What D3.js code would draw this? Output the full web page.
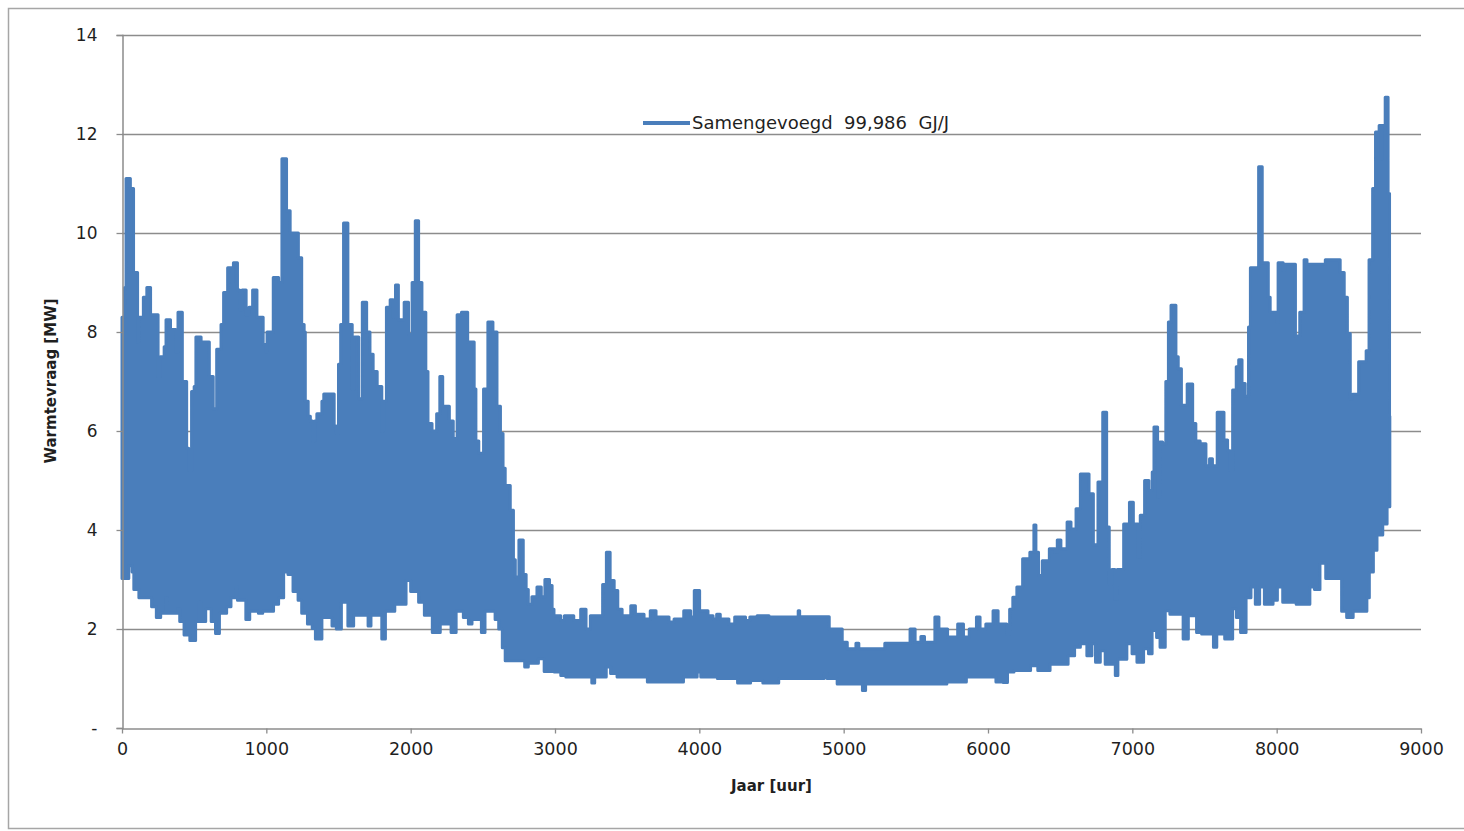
<!DOCTYPE html>
<html>
<head>
<meta charset="utf-8">
<script src="https://cdn.jsdelivr.net/npm/d3@7"></script>
<style>
  body { margin: 0; background: #fff; }
  text { font-family: "DejaVu Sans", Verdana, sans-serif; fill: #1f1f1f; }
</style>
</head>
<body>
<div id="chart"></div>
<script>
// ---- data ----
// the hourly series is too dense to read point by point: it is kept as the
// envelope of the band, [hour, MW] where each level starts
const upperEnvelope = [
  [0, 8.3], [18, 8.9], [28, 11.1], [58, 10.9], [80, 9.2], [108, 7.8], [115, 8.3], [148, 8.7], [172, 8.9],
  [198, 8.35], [250, 7.1], [266, 7.5], [292, 7.7], [305, 8.25], [336, 8.05], [372, 7.6], [388, 8.4],
  [418, 7.0], [448, 5.65], [462, 5.2], [482, 6.8], [500, 6.9], [512, 7.9], [548, 7.8], [570, 7.8],
  [605, 7.1], [632, 6.45], [656, 7.65], [686, 8.15], [704, 8.8], [732, 9.3], [760, 9.0], [772, 9.4],
  [800, 8.85], [815, 8.45], [832, 8.85], [860, 8.35], [880, 8.5], [905, 8.85], [935, 8.3], [978, 7.75],
  [995, 7.6], [1005, 8.0], [1048, 9.1], [1085, 9.0], [1108, 11.5], [1140, 10.45], [1165, 10.0],
  [1222, 9.5], [1245, 8.15], [1262, 8.0], [1270, 6.6], [1290, 6.3], [1305, 6.2], [1320, 5.8],
  [1335, 6.2], [1350, 6.35], [1385, 6.6], [1398, 6.75], [1470, 6.1], [1485, 5.95],
  [1500, 7.35], [1515, 8.15], [1535, 10.2], [1565, 8.15], [1595, 6.85], [1610, 7.9], [1640, 6.65],
  [1665, 8.6], [1695, 8.0], [1718, 7.55], [1740, 7.2], [1768, 6.9], [1800, 6.0], [1812, 6.6],
  [1832, 8.5], [1858, 8.65], [1880, 8.3], [1895, 8.95], [1915, 8.25], [1955, 8.6], [1985, 7.95],
  [2010, 9.0], [2032, 10.25], [2055, 9.0], [2078, 8.4], [2105, 7.2], [2120, 6.15], [2148, 6.0],
  [2180, 6.35], [2202, 7.1], [2222, 6.5], [2268, 6.2], [2295, 5.85], [2322, 8.35], [2352, 8.4],
  [2395, 7.8], [2440, 6.85], [2452, 5.8], [2472, 5.55], [2505, 6.85], [2535, 8.2], [2570, 8.0],
  [2598, 6.5], [2622, 5.95], [2640, 5.25], [2655, 4.9], [2690, 4.4], [2712, 3.4], [2725, 3.05],
  [2750, 3.8], [2780, 3.1], [2800, 2.8], [2815, 2.5], [2840, 2.65], [2875, 2.85], [2905, 2.65],
  [2930, 3.0], [2962, 2.88], [2980, 2.4], [2993, 2.27], [3040, 2.17], [3065, 2.27], [3130, 2.17],
  [3178, 2.4], [3215, 2.0], [3245, 2.27], [3330, 2.9], [3356, 3.55], [3382, 2.98], [3410, 2.78],
  [3435, 2.4], [3465, 2.27], [3525, 2.47], [3557, 2.3], [3617, 2.2], [3660, 2.37], [3700, 2.24],
  [3790, 2.14], [3825, 2.2], [3892, 2.37], [3940, 2.24], [3965, 2.78], [4002, 2.37], [4060, 2.27],
  [4095, 2.2], [4120, 2.3], [4145, 2.2], [4205, 2.1], [4245, 2.24], [4320, 2.17], [4350, 2.24],
  [4400, 2.27], [4483, 2.24], [4685, 2.37], [4695, 2.25], [4900, 2.0], [4990, 1.73], [5025, 1.6],
  [5085, 1.71], [5105, 1.6], [5285, 1.71], [5460, 2.0], [5495, 1.73], [5535, 1.85], [5560, 1.73],
  [5632, 2.24], [5660, 2.0], [5720, 1.84], [5790, 2.1], [5830, 1.84], [5870, 2.0], [5920, 2.24],
  [5945, 2.0], [5985, 2.1], [6035, 2.37], [6070, 2.1], [6130, 1.9], [6150, 2.4], [6172, 2.64],
  [6200, 2.85], [6240, 3.42], [6290, 3.55], [6318, 4.1], [6332, 3.55], [6350, 3.08], [6376, 3.38],
  [6425, 3.62], [6465, 3.55], [6480, 3.8], [6505, 3.62], [6548, 4.16], [6575, 4.02], [6610, 4.43],
  [6640, 5.13], [6700, 4.73], [6730, 3.7], [6762, 4.97], [6795, 6.38], [6822, 4.06], [6840, 2.9],
  [6858, 3.2], [6880, 2.6], [6895, 3.2], [6940, 4.12], [6980, 4.56], [7007, 4.12], [7040, 3.45],
  [7055, 4.3], [7085, 5.0], [7115, 4.8], [7138, 5.17], [7150, 6.08], [7175, 4.66], [7190, 5.78],
  [7210, 5.74], [7232, 7.0], [7250, 8.2], [7268, 8.54], [7302, 7.5], [7318, 7.26], [7340, 6.52],
  [7380, 6.95], [7418, 6.15], [7440, 5.8], [7470, 5.74], [7510, 5.3], [7535, 5.44], [7555, 5.3],
  [7588, 6.38], [7635, 5.82], [7660, 5.6], [7678, 5.2], [7695, 6.83], [7720, 7.3], [7737, 7.44],
  [7760, 6.96], [7782, 6.7], [7805, 8.1], [7818, 9.3], [7875, 11.34], [7900, 9.4], [7942, 8.7],
  [7955, 8.4], [8003, 8.2], [8010, 9.4], [8045, 9.24], [8055, 9.37], [8130, 7.92], [8160, 8.4],
  [8190, 9.46], [8210, 9.37], [8337, 9.46], [8440, 9.2], [8468, 8.7], [8490, 7.97], [8510, 6.65],
  [8525, 6.74], [8568, 7.4], [8620, 7.62], [8640, 9.46], [8665, 10.9], [8685, 12.04], [8710, 12.17],
  [8720, 11.5], [8728, 12.17], [8752, 12.74], [8772, 10.8], [8782, 6.3]
];

const lowerEnvelope = [
  [0, 3.02], [47, 3.28], [70, 3.15], [82, 2.8], [117, 2.63], [205, 2.45], [238, 2.23], [268, 2.32],
  [303, 2.63], [315, 2.32], [385, 2.41], [400, 2.15], [430, 1.88], [470, 1.77], [510, 2.15],
  [535, 2.54], [548, 2.15], [580, 2.41], [618, 2.15], [648, 1.91], [675, 2.32], [725, 2.45],
  [755, 2.63], [790, 2.85], [800, 2.58], [858, 2.19], [885, 2.36], [945, 2.32], [975, 2.36],
  [1050, 2.5], [1085, 2.63], [1120, 3.15], [1150, 3.1], [1185, 2.76], [1220, 2.58], [1245, 2.32],
  [1285, 2.1], [1318, 2.01], [1340, 1.8], [1385, 2.23], [1455, 2.06], [1485, 2.0], [1520, 2.54],
  [1565, 2.06], [1605, 2.28], [1705, 2.06], [1725, 2.28], [1800, 1.8], [1825, 2.36], [1890, 2.5],
  [1968, 2.98], [2000, 2.76], [2055, 2.54], [2095, 2.28], [2150, 1.93], [2205, 2.1], [2280, 1.93],
  [2315, 2.36], [2365, 2.23], [2400, 2.1], [2425, 2.19], [2490, 1.93], [2515, 2.36], [2585, 2.19],
  [2610, 2.0], [2635, 1.62], [2655, 1.36], [2790, 1.23], [2815, 1.31], [2885, 1.4], [2925, 1.14],
  [2995, 1.13], [3040, 1.06], [3075, 1.03], [3255, 0.91], [3275, 1.03], [3355, 1.23], [3385, 1.1],
  [3430, 1.03], [3640, 0.93], [3890, 1.03], [3985, 1.13], [4010, 1.03], [4125, 1.0], [4265, 0.91],
  [4355, 0.96], [4440, 0.91], [4550, 1.0], [4865, 1.1], [4885, 1.0], [4955, 0.89], [5130, 0.76],
  [5152, 0.89], [5715, 0.93], [5850, 1.03], [6055, 0.93], [6105, 0.92], [6135, 1.13], [6180, 1.16],
  [6295, 1.26], [6345, 1.16], [6430, 1.29], [6555, 1.46], [6600, 1.63], [6640, 1.7], [6685, 1.46],
  [6720, 1.7], [6745, 1.33], [6778, 1.56], [6812, 1.29], [6882, 1.06], [6900, 1.39], [6962, 1.7],
  [6998, 1.5], [7032, 1.33], [7078, 1.6], [7112, 1.5], [7137, 1.97], [7168, 1.83], [7192, 1.63],
  [7228, 2.37], [7260, 2.3], [7352, 1.8], [7388, 2.27], [7445, 1.93], [7480, 1.9], [7562, 1.63],
  [7585, 1.9], [7640, 1.8], [7695, 2.41], [7721, 2.23], [7750, 1.93], [7788, 2.63], [7822, 2.85],
  [7852, 2.5], [7882, 2.85], [7915, 2.5], [7975, 2.58], [8005, 2.85], [8042, 2.54], [8135, 2.5],
  [8230, 2.85], [8262, 2.8], [8300, 3.33], [8340, 3.02], [8450, 2.36], [8485, 2.23], [8530, 2.36],
  [8625, 2.63], [8642, 3.15], [8670, 3.59], [8695, 3.9], [8735, 4.12], [8765, 4.47]
];

const lastHour = 8784;
const xTicks = [0, 1000, 2000, 3000, 4000, 5000, 6000, 7000, 8000, 9000];
const yTicks = [0, 2, 4, 6, 8, 10, 12, 14];
const seriesName = "Samengevoegd  99,986  GJ/J";
const xTitle = "Jaar [uur]";
const yTitle = "Warmtevraag [MW]";

// ---- layout ----
const width = 1464, height = 831;
const plot = { left: 122, right: 1421, top: 35, bottom: 728 };
const lineColor = "#4a7ebb";
const gridColor = "#8c8c8c";

const svg = d3.select("#chart").append("svg")
  .attr("width", width)
  .attr("height", height);

// outer frame of the chart
svg.append("path")
  .attr("d", `M${width + 2},8.5 H8.5 V828.5 H${width + 2}`)
  .attr("fill", "none")
  .attr("stroke", "#a6a6a6")
  .attr("stroke-width", 1.5);

const x = d3.scaleLinear().domain([0, 9000]).range([plot.left, plot.right]);
const y = d3.scaleLinear().domain([0, 14]).range([plot.bottom, plot.top]);

// horizontal gridlines
svg.append("g")
  .selectAll("line")
  .data(yTicks.filter(d => d > 0))
  .join("line")
  .attr("x1", plot.left).attr("x2", plot.right)
  .attr("y1", d => Math.round(y(d)) + 0.5).attr("y2", d => Math.round(y(d)) + 0.5)
  .attr("stroke", gridColor)
  .attr("stroke-width", 1.3);

// band of the hourly line, both envelopes put on one set of hours
function levelAt(env, h) {
  let v = env[0][1];
  for (const d of env) { if (d[0] <= h) v = d[1]; else break; }
  return v;
}
const hours = Array.from(new Set(upperEnvelope.map(d => d[0])
  .concat(lowerEnvelope.map(d => d[0]), [lastHour]))).sort((a, b) => a - b);
const band = hours.map(h => ({
  hour: h,
  hi: levelAt(upperEnvelope, h),
  lo: levelAt(lowerEnvelope, h)
}));

const area = d3.area()
  .curve(d3.curveStepAfter)
  .x(d => x(d.hour))
  .y0(d => y(d.lo))
  .y1(d => y(d.hi));

svg.append("path")
  .datum(band)
  .attr("d", area)
  .attr("fill", lineColor)
  .attr("stroke", lineColor)
  .attr("stroke-width", 3)
  .attr("stroke-linejoin", "round");

// y axis
const yAxis = svg.append("g")
  .attr("transform", `translate(${plot.left + 0.5},0)`)
  .call(d3.axisLeft(y).tickValues(yTicks).tickSize(6).tickPadding(19)
    .tickFormat(d => d === 0 ? "-" : d));
yAxis.select(".domain").attr("stroke", gridColor).attr("stroke-width", 1.5);
yAxis.selectAll(".tick line").attr("stroke", gridColor).attr("stroke-width", 1.3);
yAxis.selectAll("text").attr("font-size", 17).attr("fill", "#1f1f1f");

// x axis
const xAxis = svg.append("g")
  .attr("transform", `translate(0,${plot.bottom + 0.5})`)
  .call(d3.axisBottom(x).tickValues(xTicks).tickSize(5).tickSizeOuter(0).tickPadding(9)
    .tickFormat(d3.format("d")));
xAxis.select(".domain").attr("stroke", gridColor).attr("stroke-width", 1.5);
xAxis.selectAll(".tick line").attr("stroke", gridColor).attr("stroke-width", 1.3);
xAxis.selectAll("text").attr("font-size", 17.5).attr("fill", "#1f1f1f");

// axis titles
svg.append("text")
  .attr("x", (plot.left + plot.right) / 2)
  .attr("y", 791)
  .attr("text-anchor", "middle")
  .attr("font-size", 15)
  .attr("font-weight", "bold")
  .text(xTitle);

svg.append("text")
  .attr("transform", "translate(56,381) rotate(-90)")
  .attr("text-anchor", "middle")
  .attr("font-size", 15)
  .attr("font-weight", "bold")
  .text(yTitle);

// legend
const legend = svg.append("g");
legend.append("line")
  .attr("x1", 643).attr("x2", 690)
  .attr("y1", 123).attr("y2", 123)
  .attr("stroke", lineColor)
  .attr("stroke-width", 4);
legend.append("text")
  .attr("x", 692)
  .attr("y", 129)
  .attr("font-size", 18)
  .style("white-space", "pre")
  .text(seriesName);
</script>
</body>
</html>
